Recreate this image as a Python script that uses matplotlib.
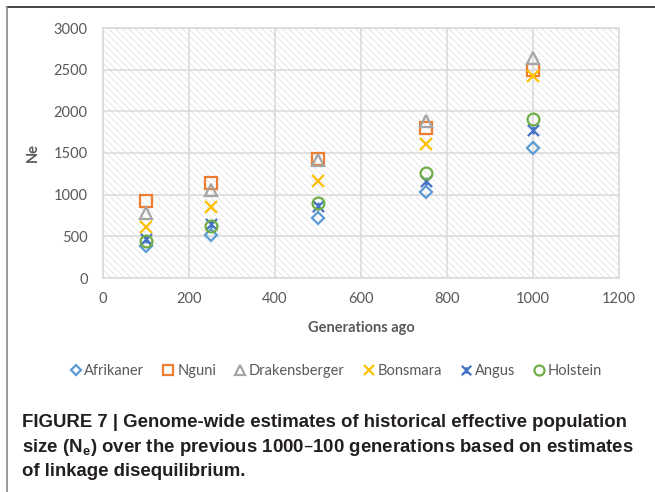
import matplotlib
matplotlib.use("Agg")
import matplotlib.pyplot as plt
from matplotlib.patches import Rectangle
from matplotlib.lines import Line2D
from matplotlib.path import Path

# data
generations = [100, 250, 500, 750, 1000]
afrikaner = [390, 516, 715, 1032, 1565]
nguni = [920, 1145, 1428, 1800, 2500]
drakensberger = [775, 1060, 1420, 1890, 2640]
bonsmara = [615, 855, 1170, 1605, 2425]
angus = [470, 650, 860, 1165, 1775]
holstein = [450, 625, 900, 1265, 1905]

series = ["Afrikaner", "Nguni", "Drakensberger", "Bonsmara", "Angus", "Holstein"]

# Excel-ish star marker: an X plus a short vertical bar
star = Path([(-1, -1), (1, 1), (-1, 1), (1, -1), (0, -0.7), (0, 0.7)],
            [Path.MOVETO, Path.LINETO, Path.MOVETO, Path.LINETO, Path.MOVETO, Path.LINETO])

styles = {
    "Afrikaner": dict(marker="D", color="#5B9BD5", ms=6.0),
    "Nguni": dict(marker="s", color="#ED7D31", ms=8.0),
    "Drakensberger": dict(marker="^", color="#A5A5A5", ms=8.5),
    "Bonsmara": dict(marker="x", color="#FFC000", ms=8.0),
    "Angus": dict(marker=star, color="#4472C4", ms=8.0),
    "Holstein": dict(marker="o", color="#70AD47", ms=8.5),
}
values = dict(zip(series, [afrikaner, nguni, drakensberger, bonsmara, angus, holstein]))

plt.rcParams['font.family'] = ['Lato', 'DejaVu Sans']
plt.rcParams['hatch.linewidth'] = 0.5

fig = plt.figure(figsize=(6.55, 4.92), dpi=100)
ax = fig.add_axes([103/655, 1-278/492, (619-103)/655, (278-28)/492])

# hatched plot area
bg = Rectangle((0, 0), 1, 1, transform=ax.transAxes, facecolor="white",
               edgecolor="#dcdcdc", hatch="\\\\\\\\\\", linewidth=0, zorder=0)
ax.add_patch(bg)

for name in series:
    st = styles[name]
    ax.plot(generations, values[name], linestyle="none", marker=st["marker"],
            markersize=st["ms"], markerfacecolor="none", markeredgecolor=st["color"],
            markeredgewidth=1.6, label=name, zorder=3)

ax.set_xlim(0, 1200)
ax.set_ylim(0, 3000)
ax.set_xticks(range(0, 1201, 200))
ax.set_yticks(range(0, 3001, 500))
ax.grid(True, color="#d9d9d9", linewidth=1.1, zorder=1)
ax.set_axisbelow(True)
for sp in ax.spines.values():
    sp.set_color("#d9d9d9")
    sp.set_linewidth(1.1)
ax.tick_params(length=0, colors="#595959", labelsize=10.5)
ax.tick_params(axis="y", pad=11)
ax.tick_params(axis="x", pad=10)

ax.set_xlabel("Generations ago", fontsize=10.5, fontweight="bold", color="#595959", labelpad=11)
ax.set_ylabel("Ne", fontsize=10.5, fontweight="bold", color="#595959", labelpad=10)

fig.legend(loc="center", bbox_to_anchor=(0.512, 1-371/492), ncol=6, frameon=False,
           fontsize=10.5, handletextpad=0.1, columnspacing=1.15, handlelength=1.0,
           labelcolor="#595959", markerscale=0.85)

# page frame
fig.add_artist(Line2D([7/655, 1], [1-7/492, 1-7/492], color="#222222", lw=1.2))
fig.add_artist(Line2D([7/655, 7/655], [0, 1-7/492], color="#888888", lw=1.2))

cap = ("FIGURE 7 | Genome-wide estimates of historical effective population\n"
       "size (N$_\\mathregular{e}$) over the previous 1000\u2013100 generations based on estimates\n"
       "of linkage disequilibrium.")
fig.text(22/655, 1-414/492, cap, ha="left", va="top", fontsize=13.4, fontweight="bold",
         family=['Liberation Sans Narrow', 'Liberation Sans', 'DejaVu Sans'],
         color="#231f20", linespacing=1.4)

fig.savefig("out.png", dpi=100)
